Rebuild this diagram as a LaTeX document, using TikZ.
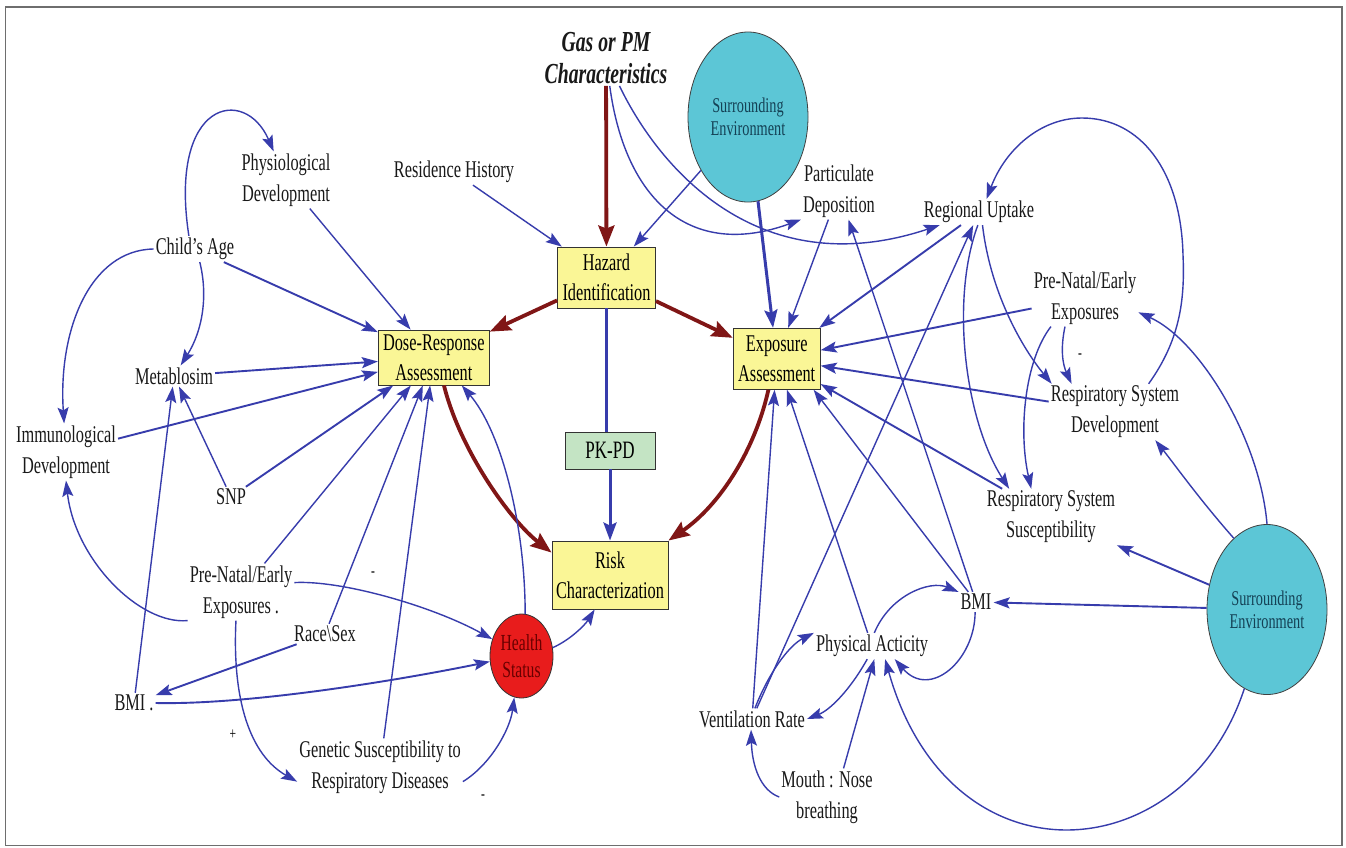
\documentclass[tikz,border=0pt]{standalone}
\usepackage{fontspec}
\setmainfont{Liberation Serif}[FakeStretch=0.68]
\usetikzlibrary{arrows.meta,shapes.geometric,calc}
\definecolor{bl}{RGB}{55,60,172}
\definecolor{dred}{RGB}{128,22,22}
\definecolor{ybox}{RGB}{250,246,150}
\definecolor{gbox}{RGB}{196,228,196}
\definecolor{cyanfill}{RGB}{92,198,214}
\definecolor{hred}{RGB}{232,28,28}
\definecolor{htext}{RGB}{105,0,0}
\definecolor{envtext}{RGB}{20,65,85}
\definecolor{framecol}{RGB}{110,110,110}
\begin{document}
\begin{tikzpicture}[x=1pt,y=-1pt,
  lbl/.style={font=\fontsize{24}{31}\selectfont, align=center, inner sep=2pt, text=black!90},
  box/.style={draw=black!80, line width=0.9pt, fill=ybox, align=center, inner sep=0pt, font=\fontsize{24}{30}\selectfont},
  env/.style={ellipse, draw=black!75, line width=0.8pt, fill=cyanfill, minimum width=120pt, minimum height=170pt, inner sep=0pt, align=center, font=\fontsize{21}{23}\selectfont, text=envtext},
  ln/.style={draw=bl, line width=1.4pt, -{Stealth[length=16pt,width=11pt,inset=3pt]}},
  lnm/.style={ln, line width=1.9pt},
  lnt/.style={draw=bl, line width=3pt, -{Stealth[length=18pt,width=13pt,inset=3pt]}},
  rd/.style={draw=dred, line width=3.8pt, -{Stealth[length=21pt,width=16pt,inset=3pt]}},
  sgn/.style={font=\fontsize{17}{17}\selectfont, inner sep=0pt},
]
\fill[white] (0,0) rectangle (1346,847);
\useasboundingbox (0,0) rectangle (1346,847);
\draw[framecol, line width=1.5pt] (5.5,7) rectangle (1342,845.5);

% text nodes
\node[lbl] (phys) at (286,180) {Physiological\\Development};
\node[lbl] (resid) at (454,172) {Residence History};
\node[lbl] (child) at (195,249) {Child's Age};
\node[lbl] (metab) at (174,376) {Metablosim};
\node[lbl] (immuno) at (66,452) {Immunological\\Development};
\node[lbl] (snp) at (231,497) {SNP};
\node[lbl] (prenatL) at (241,592) {Pre-Natal/Early\\Exposures .};
\node[lbl] (race) at (325,634) {Race\textbackslash Sex};
\node[lbl] (bmiL) at (134,703) {BMI .};
\node[lbl] (genetic) at (380,767) {Genetic Susceptibility to\\Respiratory Diseases};
\node[lbl, font=\fontsize{29}{32}\selectfont\bfseries\itshape] (gas) at (606,58) {Gas or PM\\Characteristics};
\node[lbl] (partic) at (839,191) {Particulate\\Deposition};
\node[lbl] (regional) at (979,212) {Regional Uptake};
\node[lbl] (prenatR) at (1085,298) {Pre-Natal/Early\\Exposures};
\node[lbl] (rsdev) at (1115,412) {Respiratory System\\Development};
\node[lbl] (rssus) at (1051,517) {Respiratory System\\Susceptibility};
\node[lbl] (bmiR) at (976,602) {BMI};
\node[lbl] (physact) at (872,646) {Physical Acticity};
\node[lbl] (vent) at (752,719) {Ventilation Rate};
\node[lbl] (mouth) at (827,797) {Mouth : Nose\\breathing};

% boxes and ellipses
\node[box, minimum width=98pt, minimum height=61pt] (hazard) at (606.5,277.5) {Hazard\\Identification};
\node[box, minimum width=111pt, minimum height=55pt] (dose) at (433.8,357.5) {Dose-Response\\Assessment};
\node[box, minimum width=87pt, minimum height=61pt] (expo) at (776.7,358.8) {Exposure\\Assessment};
\node[box, fill=gbox, minimum width=90pt, minimum height=37pt, font=\fontsize{25}{26}\selectfont] (pkpd) at (610,450.5) {PK-PD};
\node[box, minimum width=116pt, minimum height=68pt] (risk) at (610,575) {Risk\\Characterization};
\node[ellipse, draw=black!80, line width=0.8pt, fill=hred, minimum width=63pt, minimum height=84pt, inner sep=0pt, align=center, text=htext, font=\fontsize{23}{27}\selectfont] (health) at (521.5,656) {Health\\Status};
\node[env] (envT) at (748,117) {Surrounding\\Environment};
\node[env] (envB) at (1267,609.5) {Surrounding\\Environment};

% red connectors
\draw[rd] (gas) -- (hazard);
\draw[rd] (hazard) -- (dose);
\draw[rd] (hazard) -- (expo);
\draw[rd] (dose.-70) .. controls (460,450) and (510,520) .. (risk.159);
\draw[rd] (expo.-105) .. controls (755,450) and (720,505) .. (risk.north east);

% thick blue
\draw[lnt] (envT) -- (expo);
\draw[draw=bl, line width=3pt] (hazard.south) -- (hazard.south |- pkpd.north);
\draw[lnt] (pkpd) -- (risk);

% left side
\draw[ln] (child.115) .. controls (168,100) and (245,85) .. (phys);
\draw[ln] (child.west) .. controls (90,250) and (58,330) .. (immuno);
\draw[ln] (child.-70) .. controls (208,295) and (203,330) .. (metab);
\draw[lnm] (child) -- (dose);
\draw[ln] (phys) -- (dose);
\draw[ln] (resid) -- (hazard);
\draw[lnm] (metab) -- (dose);
\draw[lnm] (immuno) -- (dose);
\draw[ln] (bmiL) -- (metab);
\draw[ln] (snp) -- (metab);
\draw[lnm] (snp) -- (dose);
\draw[ln] (prenatL) -- (dose);
\draw[ln] (race) -- (dose);
\draw[ln] (genetic) -- (dose);
\draw[ln] (prenatL.south west) .. controls (140,625) and (75,560) .. (immuno.south);
\draw[ln] (prenatL.10) .. controls (340,580) and (430,605) .. (health.150);
\draw[ln] (prenatL.-100) .. controls (232,700) and (250,755) .. (genetic.190);
\draw[lnm] (race) -- (bmiL);
\draw[lnm] (bmiL.east) .. controls (250,705) and (400,680) .. (health.190);
\draw[ln] (genetic.-10) .. controls (490,765) and (510,730) .. (health.-100);
\draw[ln] (health.15) .. controls (570,640) and (585,625) .. (risk.-114);
\draw[ln] (health.85) .. controls (525,520) and (500,430) .. (dose.-45);

% top and right side
\draw[ln] (envT) -- (hazard);
\draw[ln] (gas) .. controls (625,200) and (690,260) .. (partic.south west);
\draw[ln] (gas) .. controls (660,170) and (760,285) .. (regional);
\draw[ln] (partic) -- (expo);
\draw[ln] (bmiR) -- (partic);
\draw[ln] (bmiR) -- (expo.-40);
\draw[ln] (vent) -- (expo);
\draw[ln] (vent) -- (regional);
\draw[ln] (physact) -- (expo);
\draw[lnm] (regional) -- (expo);
\draw[ln] (regional.-95) .. controls (950,300) and (965,420) .. (rssus.146);
\draw[ln] (regional.-75) .. controls (990,290) and (1020,345) .. (rsdev.156);
\draw[lnm] (prenatR) -- (expo);
\draw[lnm] (rsdev) -- (expo);
\draw[lnm] (rssus) -- (expo);
\draw[ln] (prenatR.-125) .. controls (1060,350) and (1063,365) .. (rsdev.147);
\draw[ln] (prenatR.-140) .. controls (1025,360) and (1018,430) .. (rssus.125);
\draw[ln] (rsdev.40) .. controls (1180,340) and (1185,300) .. (1183,255)
   .. controls (1181,170) and (1140,118) .. (1082,118)
   .. controls (1040,118) and (1005,150) .. (regional.60);
\draw[ln] (envB.north) .. controls (1260,440) and (1200,340) .. (prenatR.-15);
\draw[ln] (envB.115) .. controls (1200,500) and (1175,465) .. (rsdev.-35);
\draw[lnm] (envB) -- (rssus);
\draw[lnm] (envB) -- (bmiR);
\draw[ln] (envB.-106) .. controls (1185,870) and (950,890) .. (physact.-45);
\draw[ln] (bmiR.-95) .. controls (975,660) and (930,700) .. (physact.-30);
\draw[ln] (physact.80) .. controls (890,595) and (930,580) .. (bmiR.150);
\draw[ln] (vent.75) .. controls (770,670) and (790,645) .. (physact.north west);
\draw[ln] (physact.-110) .. controls (850,690) and (830,710) .. (vent.east);
\draw[ln] (mouth.west) .. controls (760,790) and (752,765) .. (vent.-95);
\draw[ln] (mouth.60) -- (physact.-80);

% signs
\node[sgn] (s1) at (373,574) {-};
\node[sgn] (s2) at (233,735) {+};
\node[sgn] (s3) at (483,797) {-};
\node[sgn] (s4) at (1080,356) {-};
\end{tikzpicture}
\end{document}
